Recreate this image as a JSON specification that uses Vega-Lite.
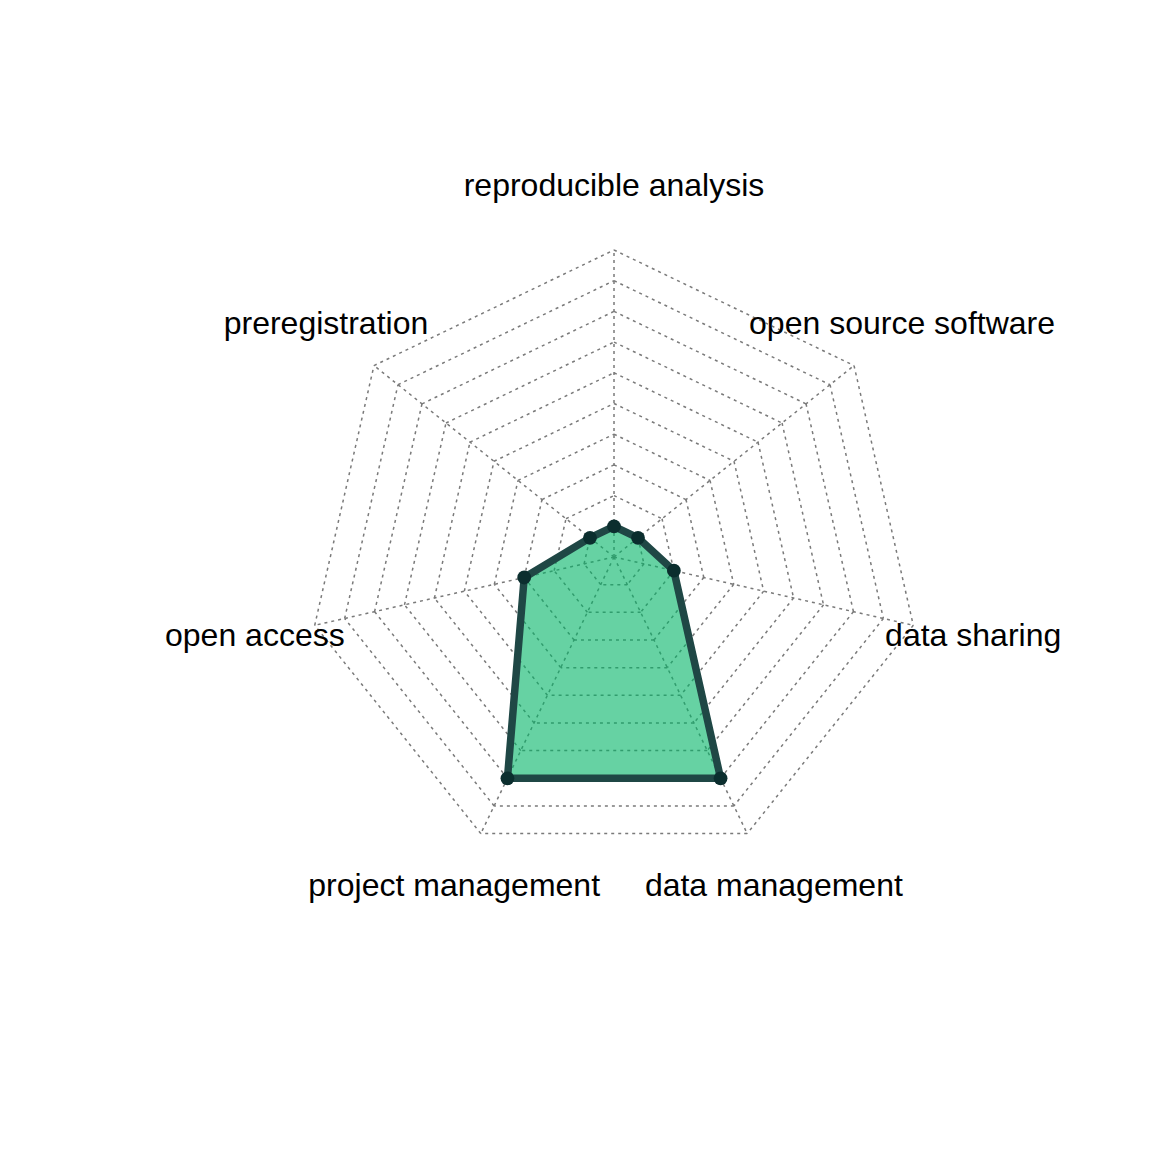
{
  "$schema": "https://vega.github.io/schema/vega-lite/v6.json",
  "width": 1152,
  "height": 1152,
  "padding": 0,
  "autosize": {"type": "none"},
  "background": "white",
  "config": {"view": {"stroke": null}},
  "datasets": {
    "scores": [
      {"axis": "reproducible analysis", "i": 0, "score": 0},
      {"axis": "open source software", "i": 1, "score": 0},
      {"axis": "data sharing", "i": 2, "score": 1},
      {"axis": "data management", "i": 3, "score": 7},
      {"axis": "project management", "i": 4, "score": 7},
      {"axis": "open access", "i": 5, "score": 2},
      {"axis": "preregistration", "i": 6, "score": 0}
    ],
    "rings": [
      {"level": 1, "i": [0, 1, 2, 3, 4, 5, 6], "j": [1, 2, 3, 4, 5, 6, 0]},
      {"level": 2, "i": [0, 1, 2, 3, 4, 5, 6], "j": [1, 2, 3, 4, 5, 6, 0]},
      {"level": 3, "i": [0, 1, 2, 3, 4, 5, 6], "j": [1, 2, 3, 4, 5, 6, 0]},
      {"level": 4, "i": [0, 1, 2, 3, 4, 5, 6], "j": [1, 2, 3, 4, 5, 6, 0]},
      {"level": 5, "i": [0, 1, 2, 3, 4, 5, 6], "j": [1, 2, 3, 4, 5, 6, 0]},
      {"level": 6, "i": [0, 1, 2, 3, 4, 5, 6], "j": [1, 2, 3, 4, 5, 6, 0]},
      {"level": 7, "i": [0, 1, 2, 3, 4, 5, 6], "j": [1, 2, 3, 4, 5, 6, 0]},
      {"level": 8, "i": [0, 1, 2, 3, 4, 5, 6], "j": [1, 2, 3, 4, 5, 6, 0]},
      {"level": 9, "i": [0, 1, 2, 3, 4, 5, 6], "j": [1, 2, 3, 4, 5, 6, 0]},
      {"level": 10, "i": [0, 1, 2, 3, 4, 5, 6], "j": [1, 2, 3, 4, 5, 6, 0]}
    ]
  },
  "layer": [
    {
      "data": {"name": "rings"},
      "transform": [
        {"flatten": ["i", "j"]},
        {"calculate": "datum.level / 10", "as": "r"},
        {"calculate": "datum.r * sin(2 * PI * datum.i / 7)", "as": "x"},
        {"calculate": "datum.r * cos(2 * PI * datum.i / 7)", "as": "y"},
        {"calculate": "datum.r * sin(2 * PI * datum.j / 7)", "as": "xe"},
        {"calculate": "datum.r * cos(2 * PI * datum.j / 7)", "as": "ye"}
      ],
      "mark": {"type": "rule", "stroke": "#7a7a7a", "strokeWidth": 1.5, "strokeDash": [3, 4]},
      "encoding": {
        "x": {"field": "x", "type": "quantitative", "scale": {"domain": [-2.0, 1.7524], "nice": false, "zero": false}, "axis": null},
        "y": {"field": "y", "type": "quantitative", "scale": {"domain": [-1.9381, 1.8143], "nice": false, "zero": false}, "axis": null},
        "x2": {"field": "xe"},
        "y2": {"field": "ye"}
      }
    },
    {
      "data": {"name": "scores"},
      "transform": [
        {"calculate": "0", "as": "cx"},
        {"calculate": "0", "as": "cy"},
        {"calculate": "sin(2 * PI * datum.i / 7)", "as": "ox"},
        {"calculate": "cos(2 * PI * datum.i / 7)", "as": "oy"}
      ],
      "mark": {"type": "rule", "stroke": "#7a7a7a", "strokeWidth": 1.5, "strokeDash": [3, 4]},
      "encoding": {
        "x": {"field": "cx", "type": "quantitative", "scale": {"domain": [-2.0, 1.7524], "nice": false, "zero": false}, "axis": null},
        "y": {"field": "cy", "type": "quantitative", "scale": {"domain": [-1.9381, 1.8143], "nice": false, "zero": false}, "axis": null},
        "x2": {"field": "ox"},
        "y2": {"field": "oy"}
      }
    },
    {
      "data": {"name": "scores"},
      "transform": [
        {"calculate": "(1 + datum.score) / 10", "as": "r"},
        {"calculate": "datum.r * sin(2 * PI * datum.i / 7)", "as": "x"},
        {"calculate": "datum.r * cos(2 * PI * datum.i / 7)", "as": "y"}
      ],
      "mark": {"type": "line", "fill": "#00b466", "fillOpacity": 0.6, "strokeOpacity": 0, "strokeWidth": 0},
      "encoding": {
        "x": {"field": "x", "type": "quantitative", "scale": {"domain": [-2.0, 1.7524], "nice": false, "zero": false}, "axis": null},
        "y": {"field": "y", "type": "quantitative", "scale": {"domain": [-1.9381, 1.8143], "nice": false, "zero": false}, "axis": null},
        "order": {"field": "i", "type": "quantitative"}
      }
    },
    {
      "data": {"name": "scores"},
      "transform": [
        {"calculate": "(1 + datum.score) / 10", "as": "r"},
        {"calculate": "datum.r * sin(2 * PI * datum.i / 7)", "as": "x"},
        {"calculate": "datum.r * cos(2 * PI * datum.i / 7)", "as": "y"},
        {
          "window": [
            {"op": "lead", "field": "x", "as": "nx"},
            {"op": "lead", "field": "y", "as": "ny"},
            {"op": "first_value", "field": "x", "as": "fx"},
            {"op": "first_value", "field": "y", "as": "fy"}
          ],
          "sort": [{"field": "i", "order": "ascending"}],
          "frame": [null, null]
        },
        {"calculate": "datum.nx == null ? datum.fx : datum.nx", "as": "xe"},
        {"calculate": "datum.ny == null ? datum.fy : datum.ny", "as": "ye"}
      ],
      "mark": {"type": "rule", "stroke": "#1f4745", "strokeWidth": 7.5, "strokeCap": "round"},
      "encoding": {
        "x": {"field": "x", "type": "quantitative", "scale": {"domain": [-2.0, 1.7524], "nice": false, "zero": false}, "axis": null},
        "y": {"field": "y", "type": "quantitative", "scale": {"domain": [-1.9381, 1.8143], "nice": false, "zero": false}, "axis": null},
        "x2": {"field": "xe"},
        "y2": {"field": "ye"}
      }
    },
    {
      "data": {"name": "scores"},
      "transform": [
        {"calculate": "(1 + datum.score) / 10", "as": "r"},
        {"calculate": "datum.r * sin(2 * PI * datum.i / 7)", "as": "x"},
        {"calculate": "datum.r * cos(2 * PI * datum.i / 7)", "as": "y"}
      ],
      "mark": {"type": "circle", "size": 190, "color": "#0b2e2e", "opacity": 1},
      "encoding": {
        "x": {"field": "x", "type": "quantitative", "scale": {"domain": [-2.0, 1.7524], "nice": false, "zero": false}, "axis": null},
        "y": {"field": "y", "type": "quantitative", "scale": {"domain": [-1.9381, 1.8143], "nice": false, "zero": false}, "axis": null}
      }
    },
    {
      "data": {"name": "scores"},
      "transform": [
        {"calculate": "1.2 * sin(2 * PI * datum.i / 7)", "as": "x"},
        {"calculate": "1.2 * cos(2 * PI * datum.i / 7)", "as": "y"}
      ],
      "mark": {"type": "text", "font": "Liberation Sans", "fontSize": 32, "color": "black", "align": "center", "baseline": "middle", "dy": -3},
      "encoding": {
        "x": {"field": "x", "type": "quantitative", "scale": {"domain": [-2.0, 1.7524], "nice": false, "zero": false}, "axis": null},
        "y": {"field": "y", "type": "quantitative", "scale": {"domain": [-1.9381, 1.8143], "nice": false, "zero": false}, "axis": null},
        "text": {"field": "axis", "type": "nominal"}
      }
    }
  ]
}
